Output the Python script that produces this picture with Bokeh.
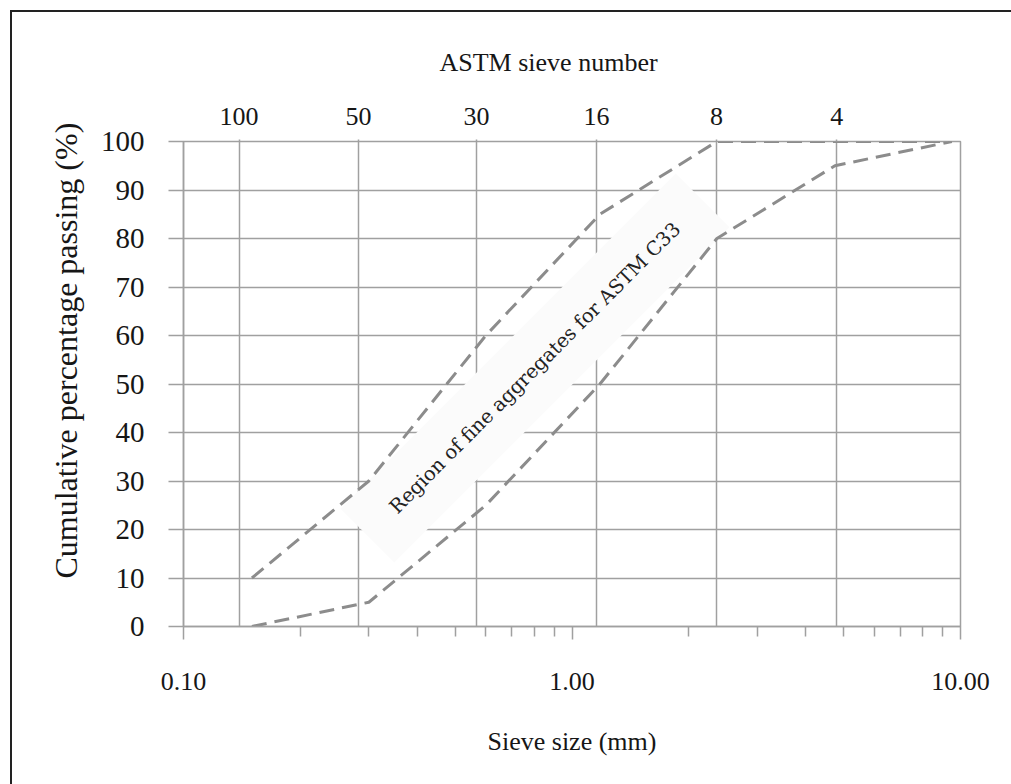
import math

from bokeh.core.properties import value
from bokeh.embed import file_html
from bokeh.models import (CustomJSTickFormatter, FixedTicker, LogAxis,
                          NumeralTickFormatter, Title)
from bokeh.plotting import figure
from bokeh.resources import INLINE

# ASTM C33 grading limits for fine aggregate
sieve_mm = [0.15, 0.30, 0.60, 1.18, 2.36, 4.75, 9.5]
upper_limit = [10, 30, 60, 85, 100, 100, 100]
lower_limit = [0, 5, 25, 50, 80, 95, 100]

# secondary (top) axis: ASTM sieve numbers
sieve_numbers = ["100", "50", "30", "16", "8", "4"]
sieve_number_pos = [0.139, 0.282, 0.568, 1.157, 2.355, 4.80]

# primary axes
x_ticks = [0.1, 1.0, 10.0]
x_minor_ticks = [0.2, 0.3, 0.4, 0.5, 0.6, 0.7, 0.8, 0.9,
                 2, 3, 4, 5, 6, 7, 8, 9]
y_ticks = [0, 10, 20, 30, 40, 50, 60, 70, 80, 90, 100]

region_label = "Region of fine aggregates for ASTM C33"
region_x, region_y = 0.803, 53.3

SERIF = "Liberation Serif"
GRID = "#a0a0a0"
INK = "#161616"

p = figure(width=1011, height=784, x_axis_type="log",
           x_range=(0.1, 10), y_range=(0, 100),
           output_backend="svg", toolbar_location=None,
           min_border_left=183, min_border_right=51,
           min_border_top=141, min_border_bottom=158)

p.border_fill_color = None
p.background_fill_color = "white"
p.outline_line_color = GRID
p.outline_line_width = 1.5
p.styles = {
    "background": "linear-gradient(#222,#222) 10px 10px / 2px 100% no-repeat, "
                  "linear-gradient(#222,#222) 10px 10px / 100% 2px no-repeat, white"
}

# bottom axis: sieve size
xa = p.xaxis[0]
xa.ticker = FixedTicker(ticks=x_ticks, minor_ticks=x_minor_ticks)
xa.formatter = NumeralTickFormatter(format="0.00")
xa.axis_label = "Sieve size (mm)"
xa.major_tick_in = 0
xa.minor_tick_in = 0
xa.major_tick_out = 13
xa.minor_tick_out = 10
xa.major_label_standoff = 33
xa.axis_label_standoff = 34

# left axis: cumulative passing
ya = p.yaxis[0]
ya.ticker = FixedTicker(ticks=y_ticks)
ya.major_tick_in = 0
ya.major_tick_out = 15
ya.minor_tick_line_color = None
ya.major_label_standoff = 24

# top axis: ASTM sieve numbers
ta = LogAxis(ticker=FixedTicker(ticks=sieve_number_pos),
             formatter=CustomJSTickFormatter(args=dict(labels=sieve_numbers),
                                             code="return labels[index];"))
ta.major_tick_in = 0
ta.major_tick_out = 2
ta.minor_tick_line_color = None
ta.major_label_standoff = 15
p.add_layout(ta, "above")

for ax in (xa, ya, ta):
    ax.axis_line_color = GRID if ax is not ta else None
    ax.axis_line_width = 1.5
    ax.major_tick_line_color = GRID
    ax.major_tick_line_width = 1.5
    ax.minor_tick_line_width = 1.5
    ax.major_label_text_font = SERIF
    ax.major_label_text_font_size = "26px"
    ax.major_label_text_color = INK
    ax.axis_label_text_font = SERIF
    ax.axis_label_text_font_size = "26px"
    ax.axis_label_text_font_style = "normal"
    ax.axis_label_text_color = INK
xa.minor_tick_line_color = GRID
ya.major_label_text_font_size = "29px"

# axis titles for the left and top sides
p.add_layout(Title(text="Cumulative percentage passing (%)", align="left",
                   offset=48, standoff=28, text_font=SERIF,
                   text_font_size="32px", text_font_style="normal",
                   text_color=INK), "left")
p.add_layout(Title(text="ASTM sieve number", align="left", offset=256,
                   standoff=56, text_font=SERIF, text_font_size="26px",
                   text_font_style="normal", text_color=INK), "above")

# grid: vertical lines at the sieve positions, horizontal every 10 %
p.xgrid[0].ticker = FixedTicker(ticks=sieve_number_pos)
p.xgrid[0].grid_line_color = GRID
p.xgrid[0].grid_line_width = 1.5
p.ygrid[0].ticker = FixedTicker(ticks=y_ticks)
p.ygrid[0].grid_line_color = GRID
p.ygrid[0].grid_line_width = 1.5

# shaded band carrying the region label
p.rect(x=[region_x], y=[region_y], width=474, height=76,
       width_units="screen", height_units="screen",
       angle=math.radians(45), fill_color="#fbfbfb", line_color=None)

# grading limits
for ys in (upper_limit, lower_limit):
    p.line(sieve_mm, ys, line_color="#8c8c8c", line_width=3,
           line_dash="15 8")

p.text(x=[region_x], y=[region_y], text=[region_label],
       angle=math.radians(45), text_align="center", text_baseline="middle",
       text_font=value("DejaVu Serif"), text_font_size="19.5px",
       text_color="#222222")

open("out.html", "w").write(file_html(p, INLINE))
